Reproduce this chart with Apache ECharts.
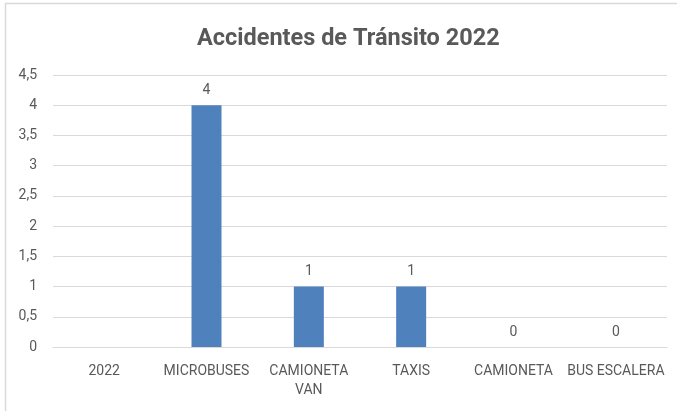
<!DOCTYPE html>
<html><head><meta charset="utf-8">
<script src="https://cdn.jsdelivr.net/npm/echarts@6/dist/echarts.min.js"></script>
<style>html,body{margin:0;padding:0;background:#fff}#c{width:677px;height:411px}</style>
</head><body><div id="c"></div>
<script>
const titleText = 'Accidentes de Tránsito 2022';
const categories = ['2022', 'MICROBUSES', 'CAMIONETA\nVAN', 'TAXIS', 'CAMIONETA', 'BUS ESCALERA'];
const values = [null, 4, 1, 1, 0, 0];
const yTicks = {min: 0, max: 4.5, interval: 0.5};

const F = 'Roboto';
const chart = echarts.init(document.getElementById('c'));
chart.setOption({
  animation: false,
  title: {text: titleText, left: 192, top: 22,
    textStyle: {fontFamily: F, fontWeight: 'bold', fontSize: 23.5, color: '#595959'}},
  graphic: [{type: 'rect', shape: {x: 5.5, y: 3.5, width: 700, height: 430},
    style: {fill: 'none', stroke: '#d9d9d9', lineWidth: 1.5}, silent: true}],
  grid: {left: 53, right: 10, top: 75, bottom: 64},
  xAxis: {type: 'category', data: categories,
    axisLine: {lineStyle: {color: '#d9d9d9', width: 1}}, axisTick: {show: false},
    axisLabel: {color: '#595959', fontFamily: F, fontSize: 14, margin: 15, interval: 0, lineHeight: 19}},
  yAxis: {type: 'value', min: yTicks.min, max: yTicks.max, interval: yTicks.interval,
    axisLine: {show: false}, axisTick: {show: false},
    splitLine: {lineStyle: {color: '#d9d9d9', width: 1}},
    axisLabel: {color: '#595959', fontFamily: F, fontSize: 14, margin: 16,
      formatter: v => String(v).replace('.', ',')}},
  series: [{type: 'bar', data: values, barWidth: 30, itemStyle: {color: '#4f81bd'},
    label: {show: true, position: 'top', distance: 8, color: '#595959', fontFamily: F, fontSize: 14}}]
});
</script></body></html>
